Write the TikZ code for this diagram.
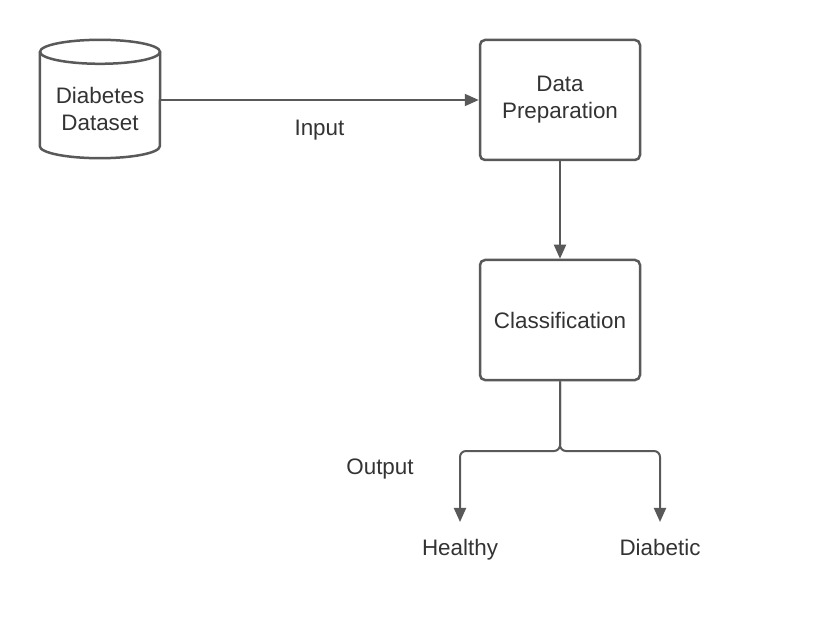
\documentclass[tikz,border=0pt]{standalone}
\usepackage{fontspec}
\setmainfont{Liberation Sans}
\usetikzlibrary{arrows.meta}
\definecolor{linegray}{HTML}{595959}
\definecolor{textgray}{HTML}{333333}
\newcommand{\lblfont}{\fontsize{22.5}{27}\selectfont}
\tikzset{
  txt/.style={text=textgray, font=\lblfont, align=center},
  result/.style={txt, text height=16bp, text depth=5bp},
  procbox/.style={txt, draw=linegray, line width=2.5bp, rounded corners=5bp,
    minimum width=160bp, minimum height=120bp},
  dbline/.style={draw=linegray, line width=2.5bp},
  flow/.style={draw=linegray, line width=2bp, -{Triangle[length=14bp,width=12bp]}}
}

\begin{document}
\begin{tikzpicture}[x=1bp,y=-1bp]
\useasboundingbox (0,0) rectangle (820,620);

% data source
\node[minimum width=120bp, minimum height=118bp, inner sep=0pt] (db) at (100,99) {};
\draw[dbline] ([yshift=-12bp]db.north west) -- ([yshift=12bp]db.south west)
  arc[start angle=180, end angle=360, x radius=60bp, y radius=12bp]
  -- ([yshift=-12bp]db.north east);
\draw[dbline] ([yshift=-12bp]db.north) ellipse[x radius=60bp, y radius=12bp];
\node[txt] (dbtxt) at (100,109) {Diabetes\\Dataset};

% processing steps
\node[procbox] (prep) at (560,100) {Data\\Preparation};
\node[procbox] (cls) at (560,320) {Classification};

% results
\node[result] (healthy) at (460,550) {Healthy};
\node[result] (diabetic) at (660,550) {Diabetic};
\node[result] (outlbl) at (380,469) {Output};
\coordinate (split) at (560,451);

\draw[flow] (db.east |- prep.west) -- (prep.west) node[result, midway, yshift=-30bp] (inlbl) {Input};
\draw[flow] (prep.south) -- (cls.north);
\draw[flow, rounded corners=6bp, shorten >=14bp] (cls.south) -- (split) -| (healthy.north);
\draw[flow, rounded corners=6bp, shorten >=14bp] (cls.south) -- (split) -| (diabetic.north);

\end{tikzpicture}
\end{document}
